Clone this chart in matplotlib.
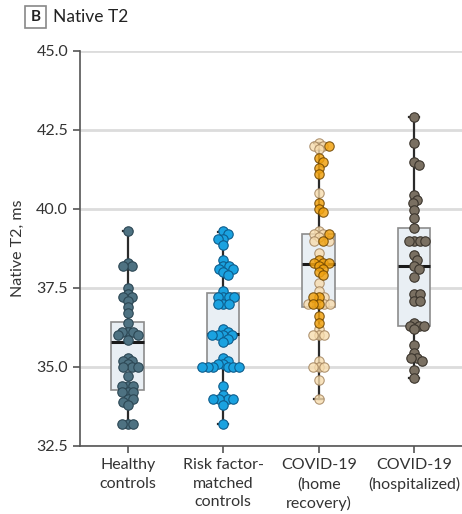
import numpy as np
import matplotlib.pyplot as plt
from matplotlib.patches import FancyBboxPatch

plt.rcParams['font.family'] = ['Lato', 'DejaVu Sans']

# ---------------------------- data ----------------------------
groups = ['Healthy\ncontrols', 'Risk factor-\nmatched\ncontrols',
          'COVID-19\n(home\nrecovery)', 'COVID-19\n(hospitalized)']

healthy = [39.3, 38.3, 38.2, 38.2, 37.5, 37.3, 37.2, 37.2, 37.1, 36.9, 36.7,
           36.4, 36.1, 36.1, 36.1, 36.0, 36.0, 35.85, 35.3, 35.2, 35.2, 35.1,
           35.0, 35.0, 35.0, 34.7, 34.4, 34.4, 34.4, 34.2, 34.2, 34.2, 34.0,
           34.0, 33.9, 33.8, 33.2, 33.2, 33.2]

risk = [39.3, 39.2, 39.05, 39.05, 38.85, 38.4, 38.2, 38.2, 38.1, 38.1, 38.0,
        37.9, 37.4, 37.2, 37.2, 37.2, 37.2, 37.0, 37.0, 37.0, 36.2, 36.1,
        36.0, 36.0, 36.0, 36.0, 35.9, 35.8, 35.3, 35.2, 35.1, 35.1, 35.0,
        35.0, 35.0, 35.0, 35.0, 35.0, 34.4, 34.1, 34.0, 34.0, 34.0, 34.0,
        33.8, 33.2]

home_orange = [42.0, 41.6, 41.5, 41.3, 41.1, 40.2, 40.0, 39.9, 39.2, 39.0,
               38.4, 38.3, 38.3, 38.3, 38.2, 38.1, 38.0, 37.9, 37.2, 37.2,
               37.0, 37.0, 36.6, 36.4]
home_light = [42.1, 42.0, 42.0, 41.9, 40.5, 39.3, 39.2, 39.2, 39.1, 39.0,
              39.0, 38.6, 37.65, 37.4, 37.2, 37.0, 37.0, 37.0, 36.2, 36.0,
              36.0, 36.0, 35.2, 35.0, 35.0, 35.0, 34.6, 34.0]

hosp = [42.9, 42.1, 41.5, 41.4, 40.45, 40.3, 40.2, 39.97, 39.7, 39.4, 39.0,
        39.0, 39.0, 39.0, 38.55, 38.4, 38.2, 38.1, 37.85, 37.3, 37.3, 37.1,
        37.1, 36.4, 36.3, 36.3, 36.3, 36.2, 35.7, 35.45, 35.3, 35.3, 35.2,
        34.9, 34.65]

# box statistics
q1 = [34.27, 35.0, 36.9, 36.3]
med = [35.78, 36.05, 38.25, 38.2]
q3 = [36.43, 37.35, 39.2, 39.4]
wlo = [33.2, 33.2, 34.0, 34.65]
whi = [39.3, 39.27, 42.1, 42.9]

# ---------------------------- figure ----------------------------
fig = plt.figure(figsize=(4.62, 5.14), dpi=100)
ax = fig.add_axes([0.173, 0.1323, 0.827, 0.7685])

stats = []
for i in range(4):
    stats.append(dict(med=med[i], q1=q1[i], q3=q3[i], whislo=wlo[i],
                      whishi=whi[i], fliers=[]))
ax.bxp(stats, positions=range(4), widths=0.34, patch_artist=True,
       showfliers=False, manage_ticks=False,
       boxprops=dict(facecolor='#e9eff4', edgecolor='#8c8c8c', linewidth=1.2),
       medianprops=dict(color='#1a1a1a', linewidth=2.2),
       whiskerprops=dict(color='#2b2b2b', linewidth=1.6),
       capprops=dict(color='#2b2b2b', linewidth=1.6), capwidths=0.1,
       zorder=2)

ax.set_xlim(-0.5, 3.5)
ax.set_ylim(32.5, 45.0)

for s in ['top', 'right']:
    ax.spines[s].set_visible(False)
for s in ['left', 'bottom']:
    ax.spines[s].set_color('#555555')
    ax.spines[s].set_linewidth(1.2)

ax.set_yticks(np.arange(32.5, 45.01, 2.5))
ax.set_yticklabels([f'{v:.1f}' for v in np.arange(32.5, 45.01, 2.5)])
ax.yaxis.grid(True, color='#dcdcdc', linewidth=2)
ax.set_axisbelow(True)
ax.set_xticks(range(4))
ax.set_xticklabels(groups, fontsize=11.5, color='#333333', linespacing=1.4)
ax.tick_params(axis='y', labelsize=11.5, labelcolor='#333333', color='#555555',
               length=5, width=1.2)
ax.tick_params(axis='x', color='#555555', length=5, width=1.2, pad=4)
ax.set_ylabel('Native T2, ms', fontsize=11.5, color='#333333', labelpad=8)

fig.canvas.draw()


def swarm(vals, pos, d):
    # simple beeswarm in pixel space
    pts = ax.transData.transform(np.column_stack([np.full(len(vals), pos), vals]))
    ys = pts[:, 1]
    order = np.argsort(-ys)
    placed = []
    xo = np.zeros(len(vals))
    for i in order:
        cands = [0.0]
        for (px, py) in placed:
            dy = ys[i] - py
            if abs(dy) < d:
                dx = np.sqrt(d * d - dy * dy)
                cands += [px + dx, px - dx]
        cands.sort(key=abs)
        for c in cands:
            ok = True
            for (px, py) in placed:
                if (c - px) ** 2 + (ys[i] - py) ** 2 < d * d - 1e-6:
                    ok = False
                    break
            if ok:
                xo[i] = c
                break
        placed.append((xo[i], ys[i]))
    xs = ax.transData.inverted().transform(
        np.column_stack([pts[:, 0] + xo, ys]))[:, 0]
    return xs


d = 5.5
ms = 46
xs = swarm(healthy, 0, d)
ax.scatter(xs, healthy, s=ms, c='#4e7282', edgecolors='#2c4754',
           linewidths=0.8, zorder=3)
xs = swarm(risk, 1, d)
ax.scatter(xs, risk, s=ms, c='#1aa2e0', edgecolors='#0e5d8c',
           linewidths=0.8, zorder=3)

home_all = home_light + home_orange
n_l = len(home_light)
xs = swarm(home_all, 2, d)
ax.scatter(xs[:n_l], home_light, s=ms, c='#f7dcae', edgecolors='#a0805a',
           linewidths=0.8, alpha=0.8, zorder=3)
ax.scatter(xs[n_l:], home_orange, s=ms, c='#f1a312', edgecolors='#6e4500',
           linewidths=0.8, alpha=0.85, zorder=4)

xs = swarm(hosp, 3, d)
ax.scatter(xs, hosp, s=ms, c='#7a7062', edgecolors='#3b352d',
           linewidths=0.8, zorder=3)

# panel header
fig.patches.append(FancyBboxPatch((0.055, 0.946), 0.044, 0.042,
                                  boxstyle='square,pad=0', transform=fig.transFigure,
                                  facecolor='white', edgecolor='#888888',
                                  linewidth=1.2))
fig.text(0.077, 0.966, 'B', ha='center', va='center', fontsize=11,
         fontweight='bold', color='#222222')
fig.text(0.115, 0.966, 'Native T2', ha='left', va='center', fontsize=12.5,
         color='#222222')

fig.savefig('out.png', dpi=100)
